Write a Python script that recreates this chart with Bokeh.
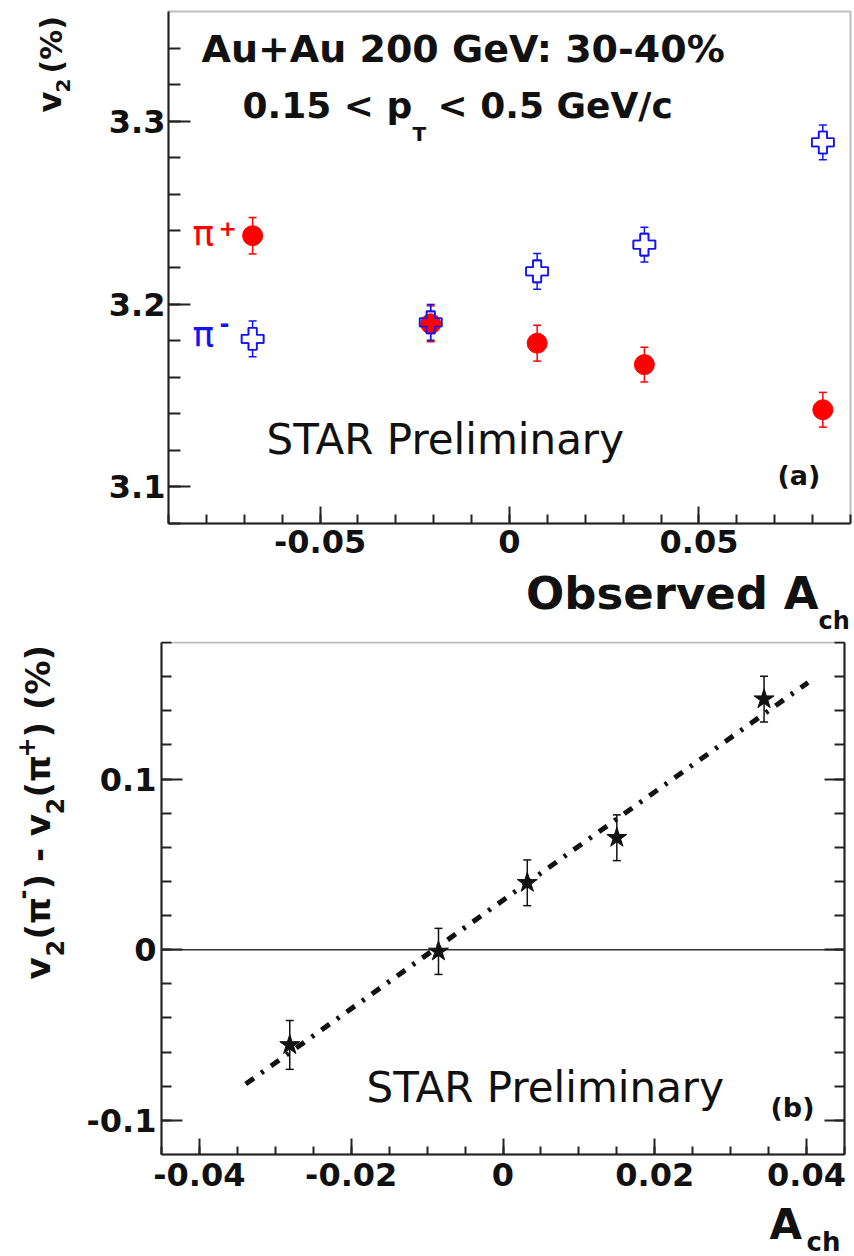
import math
from bokeh.plotting import figure
from bokeh.models import (Range1d, SingleIntervalTicker, CustomJSTickFormatter, Whisker,
                          TeeHead, ColumnDataSource, Label, LinearAxis, BoxAnnotation)
from bokeh.layouts import column
from bokeh.embed import file_html
from bokeh.resources import INLINE

# ---------------- data: panel (a) ----------------
ach_a = [-0.0678, -0.0208, 0.0073, 0.0356, 0.0827]
v2_pip = [3.2374, 3.1892, 3.1786, 3.1669, 3.1422]
v2_pip_err = [0.0100, 0.0098, 0.0098, 0.0095, 0.0095]
v2_pim = [3.1810, 3.1900, 3.2179, 3.2325, 3.2884]
v2_pim_err = [0.0098, 0.0098, 0.0098, 0.0095, 0.0095]

# ---------------- data: panel (b) ----------------
ach_b = [-0.0281, -0.0085, 0.0032, 0.0150, 0.0344]
dv2 = [-0.0558, -0.0010, 0.0392, 0.0656, 0.1468]
dv2_err = [0.0143, 0.0135, 0.0134, 0.0134, 0.0134]
fit_x = [-0.0339, 0.0402]
fit_y = [-0.0787, 0.1566]

FONT = "DejaVu Sans"
W = 854
H1 = 641
H2 = 1256 - H1
FRAME = "#222222"
R = math.pi / 2
BASE_FIX = 0.38   # empirical offset of the alphabetic baseline, in em

fmt_js = """
if (Math.abs(tick) < 1e-9) { return '0'; }
return String(parseFloat(tick.toFixed(4)));
"""


def style_axis(ax, tin, minin, standoff, size="32px"):
    ax.major_tick_in = tin
    ax.major_tick_out = 0
    ax.minor_tick_in = minin
    ax.minor_tick_out = 0
    ax.axis_line_width = 2
    ax.axis_line_color = FRAME
    ax.major_tick_line_width = 2
    ax.minor_tick_line_width = 2
    ax.major_tick_line_color = FRAME
    ax.minor_tick_line_color = FRAME
    ax.major_label_text_font = FONT
    ax.major_label_text_font_style = "bold"
    ax.major_label_text_font_size = size
    ax.major_label_text_color = "#111111"
    ax.major_label_standoff = standoff


def make_fig(h, xr, yr):
    p = figure(width=W, height=h, output_backend="svg", toolbar_location=None, title=None,
               x_range=Range1d(*xr), y_range=Range1d(*yr),
               x_axis_location=None, y_axis_location=None, min_border=0)
    p.xgrid.visible = False
    p.ygrid.visible = False
    p.outline_line_color = None
    p.background_fill_color = "white"
    p.border_fill_color = "white"
    return p


def add_label(p, conv, px, py, text, size, color="#111111", bold=False, angle=0.0, align="left"):
    if angle == 0.0:
        py = py - BASE_FIX * size
    else:
        px = px - BASE_FIX * size
    x, y = conv(px, py)
    p.add_layout(Label(x=x, y=y, text=text, text_font=FONT, text_font_size=f"{size}px",
                       text_font_style="bold" if bold else "normal", text_color=color,
                       angle=angle, text_align=align, text_baseline="alphabetic"))


# ================= panel (a) =================
# plot box (page pixels): x 168..850, y 11..523
XA0, XA1, YA0, YA1 = -0.09, 0.09, 3.08, 3.36
ka = (XA1 - XA0) / (850 - 168)
ma = (YA1 - YA0) / (523 - 11)
p1 = make_fig(H1, (XA0 - 168 * ka, XA1 + (W - 850) * ka), (YA0 - (H1 - 523) * ma, YA1 + 11 * ma))


def TA(px, py):
    return (XA0 + (px - 168) * ka, YA1 - (py - 11) * ma)


xa = LinearAxis(fixed_location=YA0, bounds=(XA0, XA1),
                ticker=SingleIntervalTicker(interval=0.05, num_minor_ticks=5),
                formatter=CustomJSTickFormatter(code=fmt_js))
style_axis(xa, 17, 9, 6)
p1.add_layout(xa, "below")
ya = LinearAxis(fixed_location=XA0, bounds=(YA0, YA1),
                ticker=SingleIntervalTicker(interval=0.1, num_minor_ticks=5),
                formatter=CustomJSTickFormatter(code=fmt_js))
style_axis(ya, 22, 12, 3)
p1.add_layout(ya, "left")
p1.add_layout(BoxAnnotation(left=XA0, right=XA1, bottom=YA0, top=YA1, fill_color=None,
                            line_color=FRAME, line_width=2))

src_p = ColumnDataSource(dict(x=ach_a, y=v2_pip,
                              lo=[v - e for v, e in zip(v2_pip, v2_pip_err)],
                              hi=[v + e for v, e in zip(v2_pip, v2_pip_err)]))
src_m = ColumnDataSource(dict(x=ach_a, y=v2_pim,
                              lo=[v - e for v, e in zip(v2_pim, v2_pim_err)],
                              hi=[v + e for v, e in zip(v2_pim, v2_pim_err)]))

RED = "#ff0000"
BLUE = "#1414f0"
for src, col in ((src_p, RED), (src_m, BLUE)):
    p1.add_layout(Whisker(source=src, base="x", lower="lo", upper="hi", line_color=col, line_width=1.5,
                          upper_head=TeeHead(size=8, line_color=col, line_width=1.5),
                          lower_head=TeeHead(size=8, line_color=col, line_width=1.5),
                          level="underlay"))

p1.scatter("x", "y", source=src_m, marker="plus", size=22, fill_color="white",
           line_color=BLUE, line_width=1.6)
p1.scatter("x", "y", source=src_p, marker="circle", size=20, fill_color=RED, line_color=RED)
p1.scatter("x", "y", source=src_m, marker="plus", size=22, fill_alpha=0,
           line_color=BLUE, line_width=1.6)

# texts panel (a)
add_label(p1, TA, 201, 63, "Au+Au 200 GeV: 30-40%", 38, bold=True)
add_label(p1, TA, 242, 119, "0.15 < p", 36, bold=True)
add_label(p1, TA, 412, 141, "T", 20, bold=True)
add_label(p1, TA, 437, 119, "< 0.5 GeV/c", 36, bold=True)
add_label(p1, TA, 266, 455, "STAR Preliminary", 42)
add_label(p1, TA, 777, 485, "(a)", 27, bold=True)
add_label(p1, TA, 192, 247, "\u03c0", 36, color=RED)
add_label(p1, TA, 218, 236, "+", 22, color=RED, bold=True)
add_label(p1, TA, 192, 348, "\u03c0", 36, color=BLUE)
add_label(p1, TA, 219, 332, "-", 24, color=BLUE, bold=True)
# y title  v_2 (%)
add_label(p1, TA, 62, 112, "v", 32, bold=True, angle=R)
add_label(p1, TA, 70, 92, "2", 20, bold=True, angle=R)
add_label(p1, TA, 62, 73, "(%)", 30, bold=True, angle=R)
# x title  Observed A_ch
add_label(p1, TA, 818, 610, "Observed A", 45, bold=True, align="right")
add_label(p1, TA, 818, 630, "ch", 24, bold=True)

# ================= panel (b) =================
# plot box (page pixels): x 161..844, y 642..1154  (figure starts at page y = H1)
XB0, XB1, YB0, YB1 = -0.045, 0.045, -0.12, 0.18
bt, bb = 642 - H1, 1154 - H1
kb = (XB1 - XB0) / (844 - 161)
mb = (YB1 - YB0) / (bb - bt)
p2 = make_fig(H2, (XB0 - 161 * kb, XB1 + (W - 844) * kb), (YB0 - (H2 - bb) * mb, YB1 + bt * mb))


def TB(px, py):
    return (XB0 + (px - 161) * kb, YB1 - (py - H1 - bt) * mb)


xb = LinearAxis(fixed_location=YB0, bounds=(XB0, XB1),
                ticker=SingleIntervalTicker(interval=0.02, num_minor_ticks=4),
                formatter=CustomJSTickFormatter(code=fmt_js))
style_axis(xb, 16, 8, 8)
p2.add_layout(xb, "below")
yb = LinearAxis(fixed_location=XB0, bounds=(YB0, YB1),
                ticker=SingleIntervalTicker(interval=0.1, num_minor_ticks=5),
                formatter=CustomJSTickFormatter(code=fmt_js))
style_axis(yb, 21, 10, 5)
p2.add_layout(yb, "left")
rb = LinearAxis(fixed_location=XB1, bounds=(YB0, YB1),
                ticker=SingleIntervalTicker(interval=0.1, num_minor_ticks=5),
                formatter=CustomJSTickFormatter(code="return '';"))
style_axis(rb, 20, 10, 0)
p2.add_layout(rb, "right")
p2.add_layout(BoxAnnotation(left=XB0, right=XB1, bottom=YB0, top=YB1, fill_color=None,
                            line_color=FRAME, line_width=2))

# zero reference line across the axis range
p2.line([XB0, XB1], [0, 0], line_color="#333333", line_width=1.5)
src_b = ColumnDataSource(dict(x=ach_b, y=dv2,
                              lo=[v - e for v, e in zip(dv2, dv2_err)],
                              hi=[v + e for v, e in zip(dv2, dv2_err)]))
p2.add_layout(Whisker(source=src_b, base="x", lower="lo", upper="hi", line_color="#111111", line_width=1.5,
                      upper_head=TeeHead(size=8, line_color="#111111", line_width=1.5),
                      lower_head=TeeHead(size=8, line_color="#111111", line_width=1.5),
                      level="underlay"))
p2.line(fit_x, fit_y, line_color="#111111", line_width=5, line_dash="10 9 3 9")
p2.scatter("x", "y", source=src_b, marker="star", size=21, color="#111111")

add_label(p2, TB, 366, 1103, "STAR Preliminary", 42)
add_label(p2, TB, 770, 1117, "(b)", 27, bold=True)
add_label(p2, TB, 769, 1240, "A", 42, bold=True)
add_label(p2, TB, 806, 1251, "ch", 26, bold=True)
# y title (rotated pieces, bottom to top)
add_label(p2, TB, 50, 979, "v", 34, bold=True, angle=R)
add_label(p2, TB, 64, 956, "2", 24, bold=True, angle=R)
add_label(p2, TB, 50, 939, "(\u03c0", 34, bold=True, angle=R)
add_label(p2, TB, 31, 899, "-", 24, bold=True, angle=R)
add_label(p2, TB, 50, 889, ") - v", 34, bold=True, angle=R)
add_label(p2, TB, 64, 814, "2", 24, bold=True, angle=R)
add_label(p2, TB, 50, 797, "(\u03c0", 34, bold=True, angle=R)
add_label(p2, TB, 35, 757, "+", 24, bold=True, angle=R)
add_label(p2, TB, 50, 737, ") (%)", 34, bold=True, angle=R)

layout = column(p1, p2, spacing=0)
open("out.html", "w").write(file_html(layout, INLINE))
